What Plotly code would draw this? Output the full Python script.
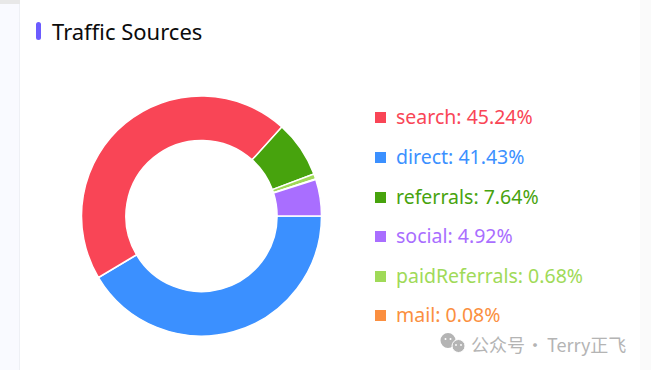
import plotly.graph_objects as go

slice_labels = ["direct", "search", "referrals", "paidReferrals", "mail", "social"]
slice_values = [41.43, 45.24, 7.64, 0.68, 0.08, 4.92]
slice_colors = ["#3b90ff", "#f94556", "#47a30d", "#a0da58", "#fb8f40", "#a96eff"]

legend_labels = ["search", "direct", "referrals", "social", "paidReferrals", "mail"]
legend_values = ["45.24%", "41.43%", "7.64%", "4.92%", "0.68%", "0.08%"]
legend_colors = ["#f94556", "#3b90ff", "#47a30d", "#a96eff", "#a0da58", "#fb8f40"]
legend_ys = [117, 157, 197, 236, 276, 315]

W, H = 651, 370
FONT = "Noto Sans, Open Sans, sans-serif"
CJK = "Noto Sans CJK SC, sans-serif"
ICON = "#b4b4b4"

def px(x):
    return x / W

def py(y):
    return 1 - y / H

def rect(x0, y0, x1, y1, color, layer="above"):
    return dict(type="rect", xref="paper", yref="paper", x0=px(x0), x1=px(x1),
                y0=py(y1), y1=py(y0), fillcolor=color, line_width=0, layer=layer)

def circle(cx, cy, r, color, line=None):
    return dict(type="circle", xref="paper", yref="paper",
                x0=px(cx - r), x1=px(cx + r), y0=py(cy + r), y1=py(cy - r),
                fillcolor=color, line=line or dict(width=0))

fig = go.Figure(go.Pie(
    labels=slice_labels,
    values=slice_values,
    hole=0.63,
    sort=False,
    direction="clockwise",
    rotation=90,
    marker=dict(colors=slice_colors, line=dict(color="#ffffff", width=1.5)),
    textinfo="none",
    showlegend=False,
    domain=dict(x=[px(81.5), px(321.5)], y=[py(336), py(96)]),
))

shapes = [
    rect(0, 0, 19, H, "#f9faff", "below"),
    rect(19, 0, 20, H, "#eef0f5", "below"),
    rect(0, 0, 20, 4, "#e8e8e8", "below"),
    rect(640, 0, W, H, "#fafafa", "below"),
    rect(36, 24, 41, 38, "#6c5cff"),
    circle(38.5, 24.5, 2.5, "#6c5cff"),
    circle(38.5, 37.5, 2.5, "#6c5cff"),
]
annotations = [
    dict(text="Traffic Sources", xref="paper", yref="paper", x=px(50), y=py(31),
         xanchor="left", yanchor="middle", showarrow=False,
         font=dict(family=FONT, size=22, color="#0b0b0b")),
    dict(text="公众号", xref="paper", yref="paper", x=px(469), y=py(344),
         xanchor="left", yanchor="middle", showarrow=False,
         font=dict(family=CJK, size=18, color=ICON)),
    dict(text="·", xref="paper", yref="paper", x=px(535), y=py(344),
         xanchor="center", yanchor="middle", showarrow=False,
         font=dict(family=CJK, size=18, color=ICON)),
    dict(text="Terry正飞", xref="paper", yref="paper", x=px(545), y=py(344),
         xanchor="left", yanchor="middle", showarrow=False,
         font=dict(family=CJK, size=18, color=ICON)),
]
for lab, val, col, y in zip(legend_labels, legend_values, legend_colors, legend_ys):
    shapes.append(rect(375, y - 5, 386, y + 6, col))
    annotations.append(dict(text=f"{lab}: {val}", xref="paper", yref="paper", x=px(394), y=py(y - 0.5),
                            xanchor="left", yanchor="middle", showarrow=False,
                            font=dict(family=FONT, size=19.5, color=col)))

# watermark icon
shapes += [
    circle(448, 340.5, 7.5, ICON),
    circle(458.5, 346, 6.5, ICON, dict(color="#ffffff", width=1)),
    circle(445.5, 339, 1, "#ffffff"),
    circle(450.5, 339, 1, "#ffffff"),
    circle(456, 345, 0.9, "#ffffff"),
    circle(461, 345, 0.9, "#ffffff"),
]

fig.update_layout(
    width=W, height=H,
    margin=dict(l=0, r=0, t=0, b=0),
    paper_bgcolor="#ffffff",
    shapes=shapes,
    annotations=annotations,
)
fig.write_html("out.html", config=dict(displayModeBar=False),
               post_script="document.body.style.margin='0';")
